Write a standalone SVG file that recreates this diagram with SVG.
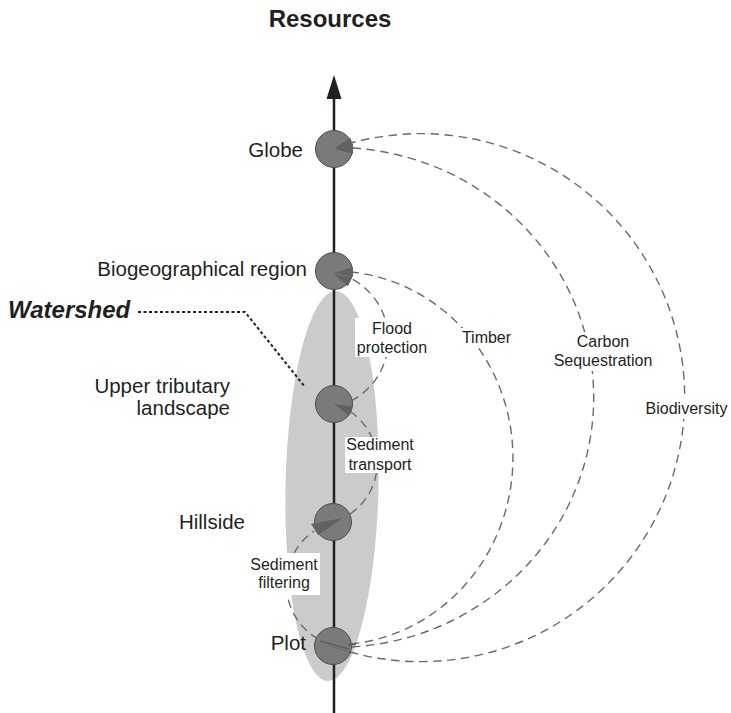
<svg xmlns="http://www.w3.org/2000/svg" width="731" height="713" viewBox="0 0 731 713">
<style>
text{font-family:"Liberation Sans",Arial,sans-serif;fill:#231f20}
.lvl{font-size:20.5px;text-anchor:end}
.lab{font-size:16px;text-anchor:middle}
.box{fill:#ffffff}
.node{fill:#7a7a7a;stroke:#4d4d4d;stroke-width:1}
.dash{fill:none;stroke:#6a6a6a;stroke-width:1.4;stroke-dasharray:8.5 5.5}
.head{fill:#626262}
</style>
<rect width="731" height="713" fill="#ffffff"/>
<g id="watershed-area">
<ellipse cx="332" cy="486" rx="46.5" ry="195" transform="rotate(1.2 332 486)" fill="#cbcbcb"/>
</g>
<g id="axis">
<line x1="334" y1="96" x2="334" y2="713" stroke="#231f20" stroke-width="2.5"/>
<polygon points="334,75 326.5,99 341.5,99" fill="#231f20"/>
<text x="330" y="27" font-size="24" font-weight="bold" text-anchor="middle">Resources</text>
</g>
<g id="watershed-label">
<text x="8" y="318" font-size="24" font-weight="bold" font-style="italic">Watershed</text>
<path d="M138 312 L245 312 L305 387" fill="none" stroke="#231f20" stroke-width="2" stroke-dasharray="3 2.5"/>
</g>
<g id="connectors">
<path class="dash" d="M350 652 A264 264 0 1 0 351 143"/>
<path class="dash" d="M352 647 A258 250 0 0 0 352 148"/>
<path class="dash" d="M351 644 A180 187 0 0 0 352 272"/>
<path class="dash" d="M351 401 A69 69 0 0 0 352 279"/>
<path class="dash" d="M350 514 A62 62 0 0 0 351 412"/>
<path class="dash" d="M318 639 A64 64 0 0 1 314 531"/>
</g>
<g id="node-globe"><circle class="node" cx="334" cy="149" r="18.5"/><text class="lvl" x="303" y="157">Globe</text></g>
<g id="node-biogeo"><circle class="node" cx="334" cy="271" r="18.5"/><text class="lvl" x="307" y="276">Biogeographical region</text></g>
<g id="node-upper"><circle class="node" cx="334" cy="404" r="18.5"/><text class="lvl" x="230" y="393">Upper tributary</text><text class="lvl" x="230" y="415">landscape</text></g>
<g id="node-hillside"><circle class="node" cx="333" cy="522" r="18.5"/><text class="lvl" x="245" y="529">Hillside</text></g>
<g id="node-plot"><circle class="node" cx="333" cy="646" r="18.5"/><text class="lvl" x="306" y="650">Plot</text></g>
<g id="connector-heads">
<polygon class="head" points="335,148 350.4,137.7 353.6,148.3"/>
<polygon class="head" points="335,149 353,143.5 353,154"/>
<polygon class="head" points="334,273 353,267 353,277"/>
<polygon class="head" points="334,274 352.2,277.5 347.8,286.5"/>
<polygon class="head" points="334,404 352.9,406.4 349.1,415.6"/>
<polygon class="head" points="343,518 311,524 318,535"/>
<line x1="320" y1="641" x2="349" y2="649" stroke="#555" stroke-width="1.2"/>
<line x1="328" y1="645" x2="350" y2="652" stroke="#666" stroke-width="1"/>
<line x1="348" y1="645" x2="356" y2="644" stroke="#666" stroke-width="2"/>
</g>
<g id="connector-labels">
<rect class="box" x="355" y="318" width="72" height="39"/>
<text class="lab" x="392" y="334">Flood</text>
<text class="lab" x="392" y="353">protection</text>
<rect class="box" x="345" y="437" width="71" height="36"/>
<text class="lab" x="380" y="450">Sediment</text>
<text class="lab" x="380" y="470">transport</text>
<rect class="box" x="248" y="553" width="72" height="42"/>
<text class="lab" x="284" y="570">Sediment</text>
<text class="lab" x="284" y="588">filtering</text>
<rect class="box" x="458" y="328" width="57" height="20"/>
<text class="lab" x="486.5" y="343">Timber</text>
<rect class="box" x="550" y="332" width="107" height="39"/>
<text class="lab" x="603" y="347">Carbon</text>
<text class="lab" x="603" y="366">Sequestration</text>
<rect class="box" x="642" y="399" width="89" height="20"/>
<text class="lab" x="686.5" y="414">Biodiversity</text>
</g>
</svg>
